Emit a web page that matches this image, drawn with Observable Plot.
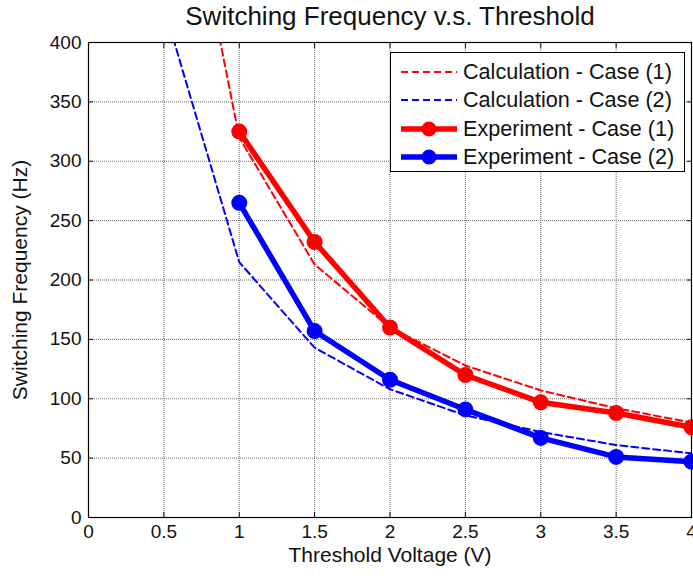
<!DOCTYPE html>
<html>
<head>
<meta charset="utf-8">
<script src="https://cdn.jsdelivr.net/npm/d3@7"></script>
<script src="https://cdn.jsdelivr.net/npm/@observablehq/plot@0.6"></script>
<style>
  html, body { margin: 0; padding: 0; background: #fff; }
  #wrap { position: relative; width: 693px; height: 581px; font-family: "Liberation Sans", Arial, sans-serif; }
  #legend { position: absolute; left: 390px; top: 52px; width: 295px; height: 120px; border: 1px solid #000; background: #fff; box-sizing: border-box; }
  .row { position: absolute; left: 0; height: 28px; display: flex; align-items: center; font-size: 21.6px; color: #111; white-space: nowrap; }
  .row svg { margin-left: 10px; margin-right: 6px; }
</style>
</head>
<body>
<div id="wrap"></div>
<script>
const voltsCalc = [0.5, 1, 1.5, 2, 2.5, 3, 3.5, 4];
const calcCase1 = [640, 320, 213, 160, 128, 107, 92, 80];
const calcCase2 = [430, 215, 143, 108, 86, 72, 61, 54];
const voltsExp = [1, 1.5, 2, 2.5, 3, 3.5, 4];
const expCase1 = [325, 232, 160, 120, 97, 88, 76];
const expCase2 = [265, 157, 116, 91, 67, 51, 47];
const xTicks = [0, 0.5, 1, 1.5, 2, 2.5, 3, 3.5, 4];
const yTicks = [0, 50, 100, 150, 200, 250, 300, 350, 400];
const seriesNames = ["Calculation - Case (1)", "Calculation - Case (2)", "Experiment - Case (1)", "Experiment - Case (2)"];
const seriesColors = ["#ff0000", "#0000ff", "#ff0000", "#0000ff"];

const calc1 = voltsCalc.map((v, i) => ({v, f: calcCase1[i]}));
const calc2 = voltsCalc.map((v, i) => ({v, f: calcCase2[i]}));
const exp1 = voltsExp.map((v, i) => ({v, f: expCase1[i]}));
const exp2 = voltsExp.map((v, i) => ({v, f: expCase2[i]}));

const chart = Plot.plot({
  width: 693,
  height: 581,
  marginLeft: 88,
  marginRight: 2,
  marginTop: 42,
  marginBottom: 64,
  style: {fontFamily: "Liberation Sans, Arial, sans-serif", fontSize: "19px", color: "#111", background: "#fff", overflow: "hidden"},
  x: {domain: [0, 4], label: null},
  y: {domain: [0, 400], label: null},
  marks: [
    Plot.gridX(xTicks, {stroke: "#666", strokeOpacity: 1, strokeDasharray: "1,1"}),
    Plot.gridY(yTicks, {stroke: "#666", strokeOpacity: 1, strokeDasharray: "1,1"}),
    Plot.axisX(xTicks, {tickSize: -5, tickPadding: 12, tickFormat: d => String(d), fontSize: 19, label: null}),
    Plot.axisX({label: "Threshold Voltage (V)", ticks: [], labelAnchor: "center", labelArrow: "none", labelOffset: 44, fontSize: 21}),
    Plot.axisX(xTicks, {anchor: "top", tickSize: -5, tickFormat: () => "", label: null}),
    Plot.axisY(yTicks, {tickSize: -5, tickPadding: 12, tickFormat: d => String(d), fontSize: 19, label: null}),
    Plot.axisY({label: "Switching Frequency (Hz)", ticks: [], labelAnchor: "center", labelArrow: "none", labelOffset: 76, fontSize: 21}),
    Plot.axisY(yTicks, {anchor: "right", tickSize: -5, tickFormat: () => "", label: null}),
    Plot.line(calc1, {x: "v", y: "f", stroke: seriesColors[0], strokeWidth: 2, strokeDasharray: "7,4", clip: true}),
    Plot.line(calc2, {x: "v", y: "f", stroke: seriesColors[1], strokeWidth: 2, strokeDasharray: "7,4", clip: true}),
    Plot.line(exp1, {x: "v", y: "f", stroke: seriesColors[2], strokeWidth: 5.5}),
    Plot.dot(exp1, {x: "v", y: "f", fill: seriesColors[2], r: 8}),
    Plot.line(exp2, {x: "v", y: "f", stroke: seriesColors[3], strokeWidth: 5.5}),
    Plot.dot(exp2, {x: "v", y: "f", fill: seriesColors[3], r: 8}),
    Plot.frame({stroke: "#000", strokeWidth: 1.2}),
    Plot.text(["Switching Frequency v.s. Threshold"], {frameAnchor: "top", lineAnchor: "middle", dy: -26, fontSize: 26, fill: "#111"})
  ]
});
const wrap = document.getElementById("wrap");
wrap.appendChild(chart);

const legend = document.createElement("div");
legend.id = "legend";
seriesNames.forEach((name, i) => {
  const row = document.createElement("div");
  row.className = "row";
  row.style.top = (5 + i * 28.4) + "px";
  const dashed = i < 2;
  const sw = dashed
    ? `<svg width="56" height="16"><line x1="0" y1="8" x2="56" y2="8" stroke="${seriesColors[i]}" stroke-width="2" stroke-dasharray="7,4"/></svg>`
    : `<svg width="56" height="16"><line x1="0" y1="8" x2="56" y2="8" stroke="${seriesColors[i]}" stroke-width="5.5"/><circle cx="28" cy="8" r="7.5" fill="${seriesColors[i]}"/></svg>`;
  row.innerHTML = sw + `<span>${name}</span>`;
  legend.appendChild(row);
});
wrap.appendChild(legend);
</script>
</body>
</html>
